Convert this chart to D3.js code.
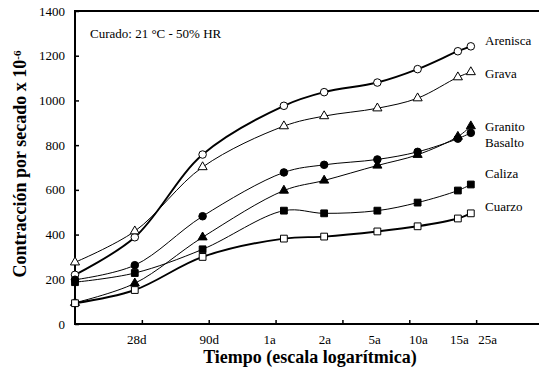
<!DOCTYPE html>
<html>
<head>
<meta charset="utf-8">
<script src="https://cdn.jsdelivr.net/npm/d3@7"></script>
<style>
  html, body { margin: 0; padding: 0; background: #fff; }
  svg { display: block; }
  text { font-family: "Liberation Serif", "Times New Roman", serif; fill: #000; }
</style>
</head>
<body>
<svg id="chart" width="539" height="371"></svg>
<script>
// Drying shrinkage of concrete by aggregate type (microstrain), log time axis
const ageDays = [10, 28, 90, 365, 730, 1825, 3650, 7300, 9125];

const arenisca = [220, 388, 758, 976, 1037, 1080, 1140, 1220, 1242];
const grava    = [276, 415, 702, 885, 930, 965, 1010, 1104, 1127];
const granito  = [95, 182, 388, 597, 642, 709, 757, 838, 885];
const basalto  = [198, 263, 482, 678, 712, 736, 770, 829, 855];
const caliza   = [187, 228, 334, 507, 495, 507, 543, 597, 624];
const cuarzo   = [93, 152, 300, 382, 391, 414, 437, 472, 495];

const seriesNames   = ["Arenisca", "Grava", "Granito", "Basalto", "Caliza", "Cuarzo"];
const seriesValues  = [arenisca, grava, granito, basalto, caliza, cuarzo];
const seriesMarkers = ["circleOpen", "triangleOpen", "triangleFilled", "circleFilled", "squareFilled", "squareOpen"];

// Time labels under the axis (text, anchor in days)
const timeLabels  = ["28d", "90d", "1a", "2a", "5a", "10a", "15a", "25a"];
const timeLabelAt = [29, 101, 285, 740, 1745, 3700, 7500, 12200];

const yTicks = [0, 200, 400, 600, 800, 1000, 1200, 1400];
const xTickDays = [1.5, 2, 2.5, 3, 3.5, 4].map(e => Math.pow(10, e));

const svg = d3.select("#chart");
const plotL = 75, plotR = 543, plotT = 11, plotB = 324;

const x = d3.scaleLog().domain([10, Math.pow(10, 4.5)]).range([plotL, plotR]);
const y = d3.scaleLinear().domain([0, 1400]).range([plotB, plotT]);

// Frame
svg.append("rect")
  .attr("x", plotL).attr("y", plotT).attr("width", plotR - plotL).attr("height", plotB - plotT)
  .attr("fill", "none").attr("stroke", "#000").attr("stroke-width", 2);

// Y axis: inward ticks, labels on the left
const yAxis = d3.axisRight(y).tickValues(yTicks).tickSize(4).tickFormat("");
svg.append("g").attr("transform", `translate(${plotL},0)`).call(yAxis)
  .call(g => g.select(".domain").remove())
  .call(g => g.selectAll("line").attr("stroke", "#000").attr("stroke-width", 1.5));
svg.append("g").selectAll("text").data(yTicks).join("text")
  .attr("x", plotL - 10).attr("y", d => y(d)).attr("dy", "0.35em")
  .attr("text-anchor", "end").attr("font-size", 13)
  .text(d => d);

// X axis: inward ticks at half-decade steps
const xAxis = d3.axisTop(x).tickValues(xTickDays).tickSize(4).tickFormat("");
svg.append("g").attr("transform", `translate(0,${plotB})`).call(xAxis)
  .call(g => g.select(".domain").remove())
  .call(g => g.selectAll("line").attr("stroke", "#000").attr("stroke-width", 1.5));
svg.append("g").selectAll("text").data(timeLabels).join("text")
  .attr("x", (d, i) => x(timeLabelAt[i])).attr("y", plotB + 20)
  .attr("text-anchor", "middle").attr("font-size", 13)
  .text(d => d);

// Axis titles
svg.append("text")
  .attr("x", 310).attr("y", 363)
  .attr("text-anchor", "middle").attr("font-size", 18).attr("font-weight", "bold")
  .text("Tiempo (escala logarítmica)");

const yTitle = svg.append("text")
  .attr("transform", `translate(26,164) rotate(-90)`)
  .attr("text-anchor", "middle").attr("font-size", 18).attr("font-weight", "bold");
yTitle.append("tspan").text("Contracción por secado x 10");
yTitle.append("tspan").attr("dy", "-0.45em").attr("font-size", 11).text("-6");

// Curing note
svg.append("text")
  .attr("x", 90).attr("y", 33).attr("dy", "0.35em").attr("font-size", 13)
  .text("Curado: 21 °C - 50% HR");

// Series lines
const line = d3.line()
  .x((d, i) => x(ageDays[i]))
  .y(d => y(d))
  .curve(d3.curveCatmullRom.alpha(0.5));

const heavy = new Set(["Arenisca", "Cuarzo"]);
const plot = svg.append("g");
seriesValues.forEach((vals, k) => {
  plot.append("path")
    .attr("d", line(vals))
    .attr("fill", "none").attr("stroke", "#000")
    .attr("stroke-width", heavy.has(seriesNames[k]) ? 1.9 : 1);
});

// Markers
const sym = {
  circleOpen:     { type: d3.symbolCircle,   size: 45, fill: "#fff" },
  circleFilled:   { type: d3.symbolCircle,   size: 45, fill: "#000" },
  triangleOpen:   { type: d3.symbolTriangle, size: 36, fill: "#fff" },
  triangleFilled: { type: d3.symbolTriangle, size: 36, fill: "#000" },
  squareOpen:     { type: d3.symbolSquare,   size: 46, fill: "#fff" },
  squareFilled:   { type: d3.symbolSquare,   size: 46, fill: "#000" }
};
seriesValues.forEach((vals, k) => {
  const s = sym[seriesMarkers[k]];
  plot.append("g").selectAll("path").data(vals).join("path")
    .attr("transform", (d, i) => `translate(${x(ageDays[i])},${y(d)})`)
    .attr("d", d3.symbol().type(s.type).size(s.size)())
    .attr("fill", s.fill).attr("stroke", "#000").attr("stroke-width", 1);
});

// Series names at the right end
const labelY = { Arenisca: 1270, Grava: 1120, Granito: 885, Basalto: 810, Caliza: 675, Cuarzo: 525 };
svg.append("g").selectAll("text").data(seriesNames).join("text")
  .attr("x", 485).attr("y", d => y(labelY[d])).attr("dy", "0.35em")
  .attr("font-size", 13)
  .text(d => d);
</script>
</body>
</html>
